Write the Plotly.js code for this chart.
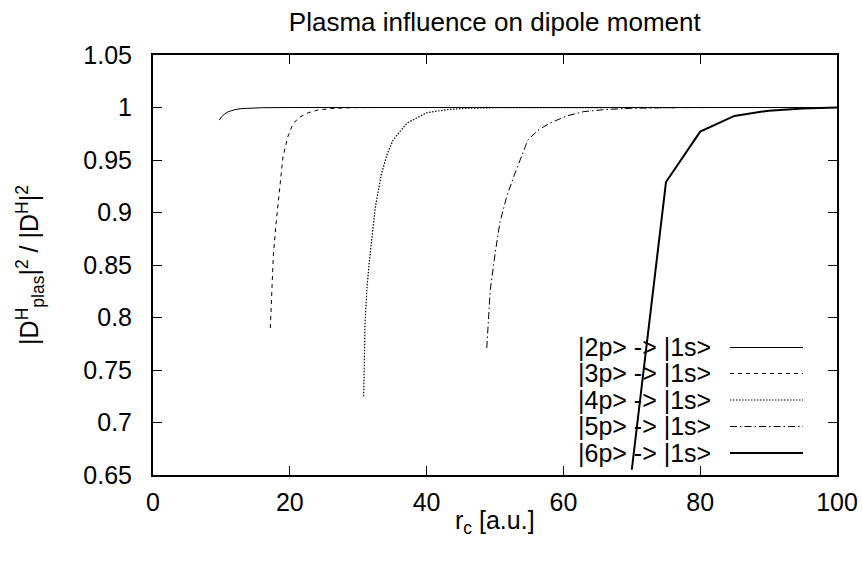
<!DOCTYPE html>
<html>
<head>
<meta charset="utf-8">
<script src="https://cdn.plot.ly/plotly-3.0.1.min.js"></script>
<style>html,body{margin:0;padding:0;background:#fff;}#chart{width:862px;height:562px;}</style>
</head>
<body>
<div id="chart"></div>
<script>
// ---- data ----
var seriesNames = ["|2p> -> |1s>", "|3p> -> |1s>", "|4p> -> |1s>", "|5p> -> |1s>", "|6p> -> |1s>"];

var x2p = [9.7, 10.0, 10.5, 11.0, 11.5, 12.0, 13.0, 14.0, 16.0, 20.0, 30.0, 40.0, 50.0, 60.0, 70.0, 80.0, 90.0, 100.0];
var y2p = [0.988, 0.991, 0.994, 0.996, 0.997, 0.998, 0.999, 0.9995, 0.9998, 1.0, 1.0, 1.0, 1.0, 1.0, 1.0, 1.0, 1.0, 1.0];

var x3p = [17.15, 17.35, 17.6, 18.0, 18.5, 19.0, 19.7, 20.5, 21.5, 22.7, 24.0, 26.0, 28.0, 30.0, 40.0, 60.0, 80.0, 100.0];
var y3p = [0.79, 0.826, 0.86, 0.89, 0.925, 0.953, 0.972, 0.985, 0.991, 0.995, 0.9975, 0.999, 0.9996, 0.9999, 1.0, 1.0, 1.0, 1.0];

var x4p = [30.8, 31.0, 31.3, 31.7, 32.5, 33.4, 34.2, 35.1, 37.1, 40.0, 43.0, 46.0, 50.0, 60.0, 80.0, 100.0];
var y4p = [0.725, 0.795, 0.83, 0.858, 0.905, 0.937, 0.955, 0.969, 0.985, 0.995, 0.998, 0.9993, 0.9998, 1.0, 1.0, 1.0];

var x5p = [48.8, 49.3, 50.0, 50.7, 51.7, 52.9, 54.8, 56.2, 58.0, 60.5, 62.9, 66.0, 70.0, 75.0, 85.0, 100.0];
var y5p = [0.771, 0.826, 0.86, 0.89, 0.915, 0.937, 0.969, 0.978, 0.985, 0.992, 0.996, 0.998, 0.9993, 0.9998, 1.0, 1.0];

var x6p = [70, 75, 80, 85, 90, 95, 100];
var y6p = [0.655, 0.929, 0.977, 0.992, 0.997, 0.999, 1.0];

var xTickVals = [0, 20, 40, 60, 80, 100];
var xTickText = ["0", "20", "40", "60", "80", "100"];
var yTickVals = [0.65, 0.7, 0.75, 0.8, 0.85, 0.9, 0.95, 1.0, 1.05];
var yTickText = ["0.65", "0.7", "0.75", "0.8", "0.85", "0.9", "0.95", "1", "1.05"];

var titleText = "Plasma influence on dipole moment";
var xTitleText = "r<sub>c</sub> [a.u.]";
var yTitleText = "|D<sup>H</sup><sub>plas</sub>|<sup>2</sup> / |D<sup>H</sup>|<sup>2</sup>";

// ---- styles ----
var xs = [x2p, x3p, x4p, x5p, x6p];
var ys = [y2p, y3p, y4p, y5p, y6p];
var dashes = ["solid", "4px,4px", "1.5px,1.5px", "7px,3px,1.5px,3px", "solid"];
var widths = [1, 1, 1.2, 1, 2];

var FONT = "Liberation Sans, Arial, Helvetica, sans-serif";
var FS = 25;

var traces = xs.map(function (x, i) {
  return {
    x: x, y: ys[i], name: seriesNames[i], type: "scatter", mode: "lines",
    line: {color: "#000", width: widths[i], dash: dashes[i]},
    showlegend: false, hoverinfo: "skip"
  };
});

// manual gnuplot-style legend (text right-aligned, sample to the right)
var legendRowsY = [0.3036, 0.2417, 0.1786, 0.1155, 0.0524];
var annotations = [];
var shapes = [];
seriesNames.forEach(function (n, i) {
  annotations.push({
    xref: "paper", yref: "paper", x: 0.819, y: legendRowsY[i],
    xanchor: "right", yanchor: "middle", showarrow: false,
    text: n.replace(/</g, "&lt;").replace(/>/g, "&gt;"),
    font: {family: FONT, size: FS, color: "#000"}
  });
  shapes.push({
    type: "line", xref: "paper", yref: "paper",
    x0: 0.8436, x1: 0.9503, y0: legendRowsY[i], y1: legendRowsY[i],
    line: {color: "#000", width: widths[i], dash: dashes[i]}
  });
});
// axis titles placed as annotations for exact positions
annotations.push({
  xref: "paper", yref: "paper", x: 0.5, y: -0.112, xanchor: "center", yanchor: "middle",
  showarrow: false, text: xTitleText, font: {family: FONT, size: FS, color: "#000"}
});
annotations.push({
  xref: "paper", yref: "paper", x: -0.18, y: 0.5, xanchor: "center", yanchor: "middle",
  textangle: -90, showarrow: false, text: yTitleText, font: {family: FONT, size: FS, color: "#000"}
});

var layout = {
  width: 862, height: 562,
  margin: {l: 153, r: 25, t: 55, b: 87, pad: 0},
  paper_bgcolor: "#fff", plot_bgcolor: "#fff",
  font: {family: FONT, size: FS, color: "#000"},
  title: {text: titleText, x: 0.574, xanchor: "center",
          y: 1 - 22 / 562, yanchor: "middle", font: {family: FONT, size: 26, color: "#000"}},
  xaxis: {
    range: [0, 100], tickvals: xTickVals, ticktext: xTickText,
    ticks: "inside", ticklen: 9, tickwidth: 1, tickcolor: "#000",
    showline: true, linecolor: "#000", linewidth: 2, mirror: "ticks",
    showgrid: false, zeroline: false, ticklabelstandoff: 4,
    tickfont: {family: FONT, size: FS, color: "#000"}
  },
  yaxis: {
    range: [0.65, 1.05], tickvals: yTickVals, ticktext: yTickText,
    ticks: "inside", ticklen: 9, tickwidth: 1, tickcolor: "#000",
    showline: true, linecolor: "#000", linewidth: 2, mirror: "ticks",
    showgrid: false, zeroline: false, ticklabelstandoff: 14,
    tickfont: {family: FONT, size: FS, color: "#000"}
  },
  annotations: annotations,
  shapes: shapes
};

Plotly.newPlot("chart", traces, layout, {displayModeBar: false});
</script>
</body>
</html>
